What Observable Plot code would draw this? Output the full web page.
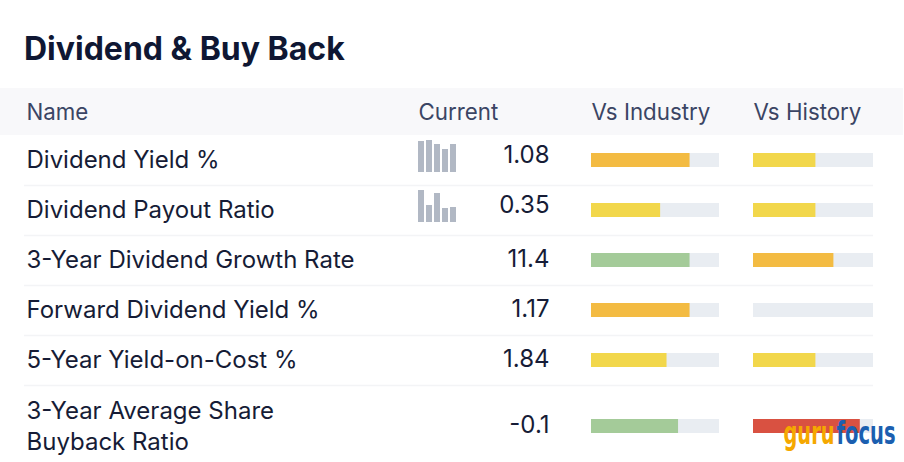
<!DOCTYPE html>
<html>
<head>
<meta charset="utf-8">
<script src="https://cdn.jsdelivr.net/npm/d3@7"></script>
<script src="https://cdn.jsdelivr.net/npm/@observablehq/plot@0.6"></script>
<style>
  html, body { margin: 0; padding: 0; background: #ffffff; }
  body { width: 904px; height: 462px; overflow: hidden; font-family: Inter, "Noto Sans", sans-serif; }
  #title { height: 88px; box-sizing: border-box; padding: 30px 0 0 24px; font-size: 32px; font-weight: 700; color: #0f1733; line-height: 38px; letter-spacing: 0px; }
  #chart svg { display: block; }
</style>
</head>
<body>
<div id="title">Dividend &amp; Buy Back</div>
<div id="chart"></div>
<script>
// ---- data ----
const headers = ["Name", "Current", "Vs Industry", "Vs History"];
const names = ["Dividend Yield %", "Dividend Payout Ratio", "3-Year Dividend Growth Rate", "Forward Dividend Yield %", "5-Year Yield-on-Cost %", "3-Year Average Share\nBuyback Ratio"];
const currentValues = ["1.08", "0.35", "11.4", "1.17", "1.84", "-0.1"];
const industryRank = [0.77, 0.54, 0.77, 0.77, 0.59, 0.68];
const industryLevel = ["orange", "yellow", "green", "orange", "yellow", "green"];
const historyRank = [0.52, 0.52, 0.67, 0, 0.52, 0.89];
const historyLevel = ["yellow", "yellow", "orange", "none", "yellow", "red"];
const sparkValues = [[31, 32, 28, 23, 28], [32, 17, 29, 14, 15], null, null, null, null];

// ---- layout ----
const W = 904, H = 462, svgTop = 88;
const headerBand = {y1: 88, y2: 135};
const rowHeights = [50, 50, 50, 50, 50, 82];
const rowTops = rowHeights.map((h, i) => headerBand.y2 + d3.sum(rowHeights.slice(0, i)));
const rowCenter = i => i < 5 ? rowTops[i] + 25 : rowTops[i] + 41;
const colX = {name: 26, current: 418, industry: 591, history: 753, valueRight: 549};
const trackW = {industry: 128, history: 120};
const barH = 14;
const colors = {orange: "#f3bb42", yellow: "#f2d74b", green: "#a4cb99", red: "#d95141", none: "none"};

const rows = names.map((n, i) => ({
  i, name: n, value: currentValues[i], ind: industryRank[i], indC: industryLevel[i],
  his: historyRank[i], hisC: historyLevel[i], spark: sparkValues[i]
}));

const sparkH = d3.scaleLinear([0, 32], [0, 32]);
const sparkBars = rows.filter(r => r.spark).flatMap(r => r.spark.map((v, j) => ({
  i: r.i, j, v,
  x1: colX.current + j * 8, x2: colX.current + j * 8 + 6,
  bottom: rowCenter(r.i) + 12
})));

const tracks = rows.flatMap(r => [
  {i: r.i, x1: colX.industry, x2: colX.industry + trackW.industry},
  {i: r.i, x1: colX.history, x2: colX.history + trackW.history}
]);
const fills = rows.flatMap(r => [
  {i: r.i, x1: colX.industry, x2: colX.industry + r.ind * trackW.industry, c: r.indC},
  {i: r.i, x1: colX.history, x2: colX.history + r.his * trackW.history, c: r.hisC}
]).filter(d => d.x2 > d.x1);

const separators = rows.slice(0, 5).map(r => ({y: rowTops[r.i] + rowHeights[r.i]}));
const headerCells = headers.map((h, k) => ({h, x: [colX.name, colX.current, colX.industry, colX.history][k]}));

const chart = Plot.plot({
  width: W, height: H - svgTop,
  margin: 0,
  x: {type: "linear", domain: [0, W], range: [0, W], axis: null},
  y: {type: "linear", domain: [svgTop, H], range: [0, H - svgTop], axis: null},
  style: {fontFamily: "Inter, 'Noto Sans', sans-serif", background: "transparent"},
  marks: [
    Plot.rect([headerBand], {x1: 0, x2: 903, y1: "y1", y2: "y2", fill: "#f8f8fa"}),
    Plot.text(headerCells, {x: "x", y: (headerBand.y1 + headerBand.y2) / 2 + 1, text: "h", textAnchor: "start", fontSize: 22.3, fill: "#3b4564"}),
    Plot.ruleY(separators, {y: "y", x1: 24, x2: 873, stroke: "#f3f4f6", strokeWidth: 1.5}),
    Plot.text(rows, {x: colX.name, y: d => rowCenter(d.i) - 2, text: "name", textAnchor: "start", fontSize: 24, fill: "#161c36", lineHeight: 1.3}),
    Plot.rect(sparkBars, {x1: "x1", x2: "x2", y1: d => d.bottom - sparkH(d.v), y2: "bottom", fill: "#b1b8c4"}),
    Plot.text(rows, {x: colX.valueRight, y: d => rowCenter(d.i) - 1 - (d.spark ? 4 : 0), text: "value", textAnchor: "end", fontSize: 24, fill: "#161c36"}),
    Plot.rect(tracks, {x1: "x1", x2: "x2", y1: d => rowCenter(d.i) - barH / 2, y2: d => rowCenter(d.i) + barH / 2, fill: "#e9edf2"}),
    Plot.rect(fills, {x1: "x1", x2: "x2", y1: d => rowCenter(d.i) - barH / 2, y2: d => rowCenter(d.i) + barH / 2, fill: d => colors[d.c]}),
    Plot.text([{t: "guru", x: 783, c: "#f5a800"}, {t: "focus", x: 836, c: "#1b5fb0"}],
      {x: "x", y: 443, text: "t", textAnchor: "start", lineAnchor: "bottom", fill: "c", fontSize: 32, fontFamily: "'Liberation Sans Narrow', 'DejaVu Sans Condensed', sans-serif", fontWeight: 700})
  ]
});
document.getElementById("chart").appendChild(chart);

// fit logo words to their widths
d3.select(chart).selectAll("text").filter(function() { const t = this.textContent; return t === "guru" || t === "focus"; })
  .each(function() {
    const t = this.textContent;
    this.setAttribute("textLength", t === "guru" ? 51 : 59);
    this.setAttribute("lengthAdjust", "spacingAndGlyphs");
  });
</script>
</body>
</html>
